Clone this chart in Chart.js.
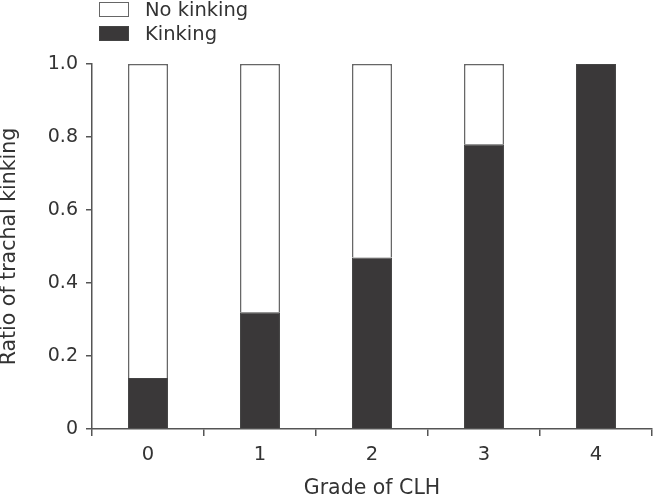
<!DOCTYPE html>
<html>
<head>
<meta charset="utf-8">
<script src="https://cdn.jsdelivr.net/npm/chart.js@4/dist/chart.umd.min.js"></script>
<style>
  html, body { margin: 0; padding: 0; background: #fff; }
  #wrap { position: relative; width: 654px; height: 497px; overflow: hidden; }
  canvas { position: absolute; left: 0; top: 0; }
  .box { position: absolute; left: 99px; width: 30px; height: 15px; box-sizing: border-box; border: 1.5px solid #666; }
  .lbl { position: absolute; left: 145px; font-family: "DejaVu Sans", sans-serif; font-size: 19.5px; line-height: 19.5px; color: #333; white-space: nowrap; }
</style>
</head>
<body>
<div id="wrap">
  <canvas id="c" width="654" height="497"></canvas>
</div>
<script>
const categories = ["0", "1", "2", "3", "4"];
const kinking = [0.14, 0.32, 0.47, 0.78, 1.0];
const noKinking = [0.86, 0.68, 0.53, 0.22, 0.0];
const yTicks = [0, 0.2, 0.4, 0.6, 0.8, 1.0];
const seriesNames = ["Kinking", "No kinking"];
const colors = { kink: "#3a3839", none: "#ffffff", edge: "#666666", text: "#333333" };

// HTML legend (No kinking on top, Kinking below)
const wrap = document.getElementById("wrap");
[[seriesNames[1], colors.none, "#666", 1.5, -0.5], [seriesNames[0], colors.kink, "#444", 26, 23.5]].forEach(([name, col, edge, boxTop, lblTop]) => {
  const b = document.createElement("div");
  b.className = "box";
  b.style.top = boxTop + "px";
  b.style.background = col;
  b.style.borderColor = edge;
  wrap.appendChild(b);
  const l = document.createElement("div");
  l.className = "lbl";
  l.style.top = lblTop + "px";
  l.textContent = name;
  wrap.appendChild(l);
});

const fam = "'DejaVu Sans', sans-serif";

new Chart(document.getElementById("c"), {
  type: "bar",
  data: {
    labels: categories,
    datasets: [
      { label: seriesNames[0], data: kinking, backgroundColor: colors.kink, borderColor: "#444", borderWidth: 1, barPercentage: 0.357, categoryPercentage: 1 },
      { label: seriesNames[1], data: noKinking, backgroundColor: colors.none, borderColor: colors.edge, borderWidth: 1.5, barPercentage: 0.357, categoryPercentage: 1 }
    ]
  },
  options: {
    responsive: false,
    animation: false,
    layout: { padding: { top: 64, right: 2, left: 0, bottom: 0 } },
    plugins: { legend: { display: false }, tooltip: { enabled: false } },
    scales: {
      x: {
        stacked: true,
        offset: true,
        afterFit: (axis) => { axis.height = 68; },
        grid: { display: true, offset: true, drawOnChartArea: false, drawTicks: true, tickLength: 7, color: "#555", lineWidth: 1.5 },
        border: { display: true, color: "#555", width: 1.5 },
        ticks: { color: colors.text, font: { family: fam, size: 19.5 }, padding: 7 },
        title: { display: true, text: "Grade of CLH", color: colors.text, font: { family: fam, size: 20.5 }, padding: { top: 0, bottom: -4 } }
      },
      y: {
        stacked: true,
        min: 0,
        max: 1.0,
        afterFit: (axis) => { axis.width = 92; },
        afterBuildTicks: (axis) => { axis.ticks = yTicks.map(v => ({ value: v })); },
        grid: { display: true, drawOnChartArea: false, drawTicks: true, tickLength: 6, color: "#555", lineWidth: 1.5 },
        border: { display: true, color: "#555", width: 1.5 },
        ticks: { color: colors.text, font: { family: fam, size: 19 }, padding: 8, callback: (v) => v === 0 ? "0" : v.toFixed(1) },
        title: { display: true, text: "Ratio of trachal kinking", color: colors.text, font: { family: fam, size: 20.5 }, padding: { top: -3, bottom: 0 } }
      }
    }
  }
});
</script>
</body>
</html>
